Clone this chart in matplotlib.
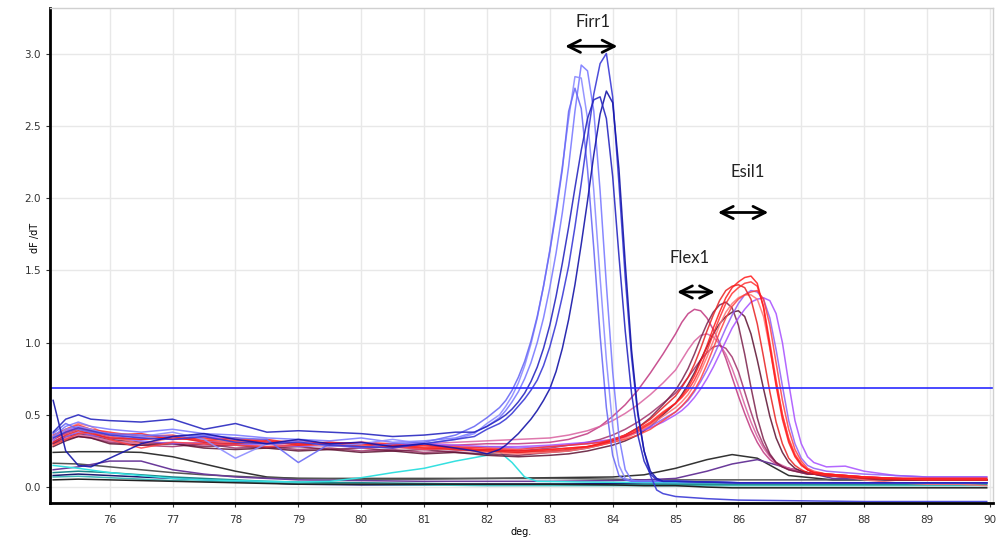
import matplotlib
matplotlib.use('Agg')
import matplotlib.pyplot as plt

# --- temperature grids ---
TB = [75.1, 75.3, 75.5, 75.7, 76.0, 76.5, 77.0, 77.5, 78.0, 78.5, 79.0, 79.5, 80.0, 80.5, 81.0, 81.5, 81.8, 82.0,
      82.2, 82.3, 82.4, 82.5, 82.6, 82.7, 82.8, 82.9, 83.0, 83.1, 83.2, 83.3, 83.4, 83.5, 83.6, 83.7, 83.8, 83.9,
      84.0, 84.1, 84.2, 84.3, 84.4, 84.5, 84.6, 84.7, 84.8,
      85.0, 85.5, 86.0, 87.0, 88.0, 89.0, 89.95]

TR = [75.1, 75.3, 75.5, 75.7, 76.0, 76.5, 77.0, 77.5, 78.0, 78.5, 79.0, 79.5, 80.0, 80.5, 81.0, 81.5, 82.0, 82.5, 83.0,
      83.3, 83.6, 83.8, 84.0, 84.2, 84.4, 84.6, 84.8,
      85.0, 85.1, 85.2, 85.3, 85.4, 85.5, 85.6, 85.7, 85.8, 85.9, 86.0, 86.1, 86.2, 86.3, 86.4, 86.5, 86.6, 86.7,
      86.8, 86.9, 87.0, 87.1, 87.2,
      87.4, 87.7, 88.0, 88.5, 89.0, 89.5, 89.95]

TL = [75.1, 75.5, 76.0, 76.5, 77.0, 77.5, 78.0, 78.5, 79.0, 80.0, 81.0, 82.0, 83.0, 84.0, 84.5, 85.0, 85.5, 85.9,
      86.3, 86.8, 87.5, 88.5, 89.95]

# --- Firr1 (blue) ---
firr_l1 = [0.35, 0.42, 0.45, 0.42, 0.4, 0.38, 0.4, 0.37, 0.36, 0.34, 0.33, 0.32, 0.34, 0.31, 0.32, 0.34, 0.38, 0.42,
           0.48, 0.53, 0.59, 0.66, 0.75, 0.86, 1.0, 1.17, 1.38, 1.62, 1.9, 2.22, 2.6, 2.92, 2.88, 2.6, 2.05, 1.4,
           0.8, 0.35, 0.12, 0.05, 0.04, 0.04, 0.04, 0.04, 0.04,
           0.04, 0.035, 0.03, 0.03, 0.03, 0.03, 0.03]
firr_l2 = [0.33, 0.4, 0.42, 0.4, 0.36, 0.35, 0.38, 0.33, 0.2, 0.3, 0.32, 0.28, 0.3, 0.33, 0.3, 0.33, 0.37, 0.44,
           0.5, 0.56, 0.63, 0.72, 0.84, 0.99, 1.17, 1.39, 1.64, 1.92, 2.22, 2.55, 2.84, 2.83, 2.55, 2.05, 1.45, 0.88,
           0.42, 0.15, 0.06, 0.04, 0.04, 0.04, 0.04, 0.04, 0.04,
           0.04, 0.035, 0.03, 0.03, 0.03, 0.03, 0.03]
firr_l3 = [0.37, 0.44, 0.4, 0.38, 0.37, 0.36, 0.35, 0.36, 0.34, 0.33, 0.17, 0.3, 0.27, 0.3, 0.31, 0.36, 0.42, 0.48,
           0.55, 0.6, 0.67, 0.76, 0.87, 1.01, 1.18, 1.39, 1.63, 1.9, 2.2, 2.6, 2.76, 2.62, 2.2, 1.65, 1.05, 0.55,
           0.22, 0.08, 0.05, 0.04, 0.04, 0.04, 0.04, 0.04, 0.04,
           0.04, 0.035, 0.03, 0.03, 0.03, 0.03, 0.03]
firr_d1 = [0.34, 0.38, 0.41, 0.39, 0.36, 0.34, 0.33, 0.35, 0.31, 0.3, 0.31, 0.29, 0.28, 0.27, 0.3, 0.33, 0.35, 0.4,
           0.44, 0.47, 0.51, 0.56, 0.61, 0.67, 0.74, 0.84, 0.97, 1.13, 1.32, 1.53, 1.8, 2.1, 2.42, 2.72, 2.93, 3.0,
           2.7, 2.1, 1.45, 0.9, 0.5, 0.25, 0.08, -0.02, -0.045,
           -0.065, -0.08, -0.09, -0.095, -0.1, -0.1, -0.1]
firr_d2 = [0.6, 0.25, 0.15, 0.14, 0.2, 0.3, 0.35, 0.37, 0.33, 0.3, 0.33, 0.3, 0.31, 0.28, 0.3, 0.27, 0.25, 0.23,
           0.26, 0.29, 0.33, 0.37, 0.42, 0.47, 0.53, 0.6, 0.68, 0.8, 0.96, 1.16, 1.4, 1.68, 1.98, 2.3, 2.58, 2.74,
           2.66, 2.2, 1.55, 0.95, 0.52, 0.25, 0.11, 0.06, 0.04,
           0.04, 0.035, 0.03, 0.03, 0.03, 0.03, 0.03]
firr_d3 = [0.38, 0.47, 0.5, 0.47, 0.46, 0.45, 0.47, 0.4, 0.44, 0.38, 0.39, 0.38, 0.37, 0.35, 0.36, 0.38, 0.38, 0.42,
           0.47, 0.5, 0.54, 0.59, 0.65, 0.73, 0.83, 0.96, 1.12, 1.32, 1.55, 1.8, 2.07, 2.33, 2.55, 2.68, 2.7, 2.55,
           2.15, 1.6, 1.08, 0.65, 0.36, 0.18, 0.09, 0.05, 0.04,
           0.04, 0.035, 0.03, 0.03, 0.03, 0.03, 0.03]

# --- Esil1 (red / purple / maroon) ---
esil_r1 = [0.33, 0.38, 0.41, 0.39, 0.36, 0.37, 0.33, 0.34, 0.32, 0.33, 0.3, 0.31, 0.3, 0.28, 0.29, 0.27, 0.26, 0.25, 0.26,
           0.27, 0.28, 0.3, 0.32, 0.35, 0.39, 0.44, 0.51,
           0.58, 0.63, 0.69, 0.77, 0.87, 0.98, 1.1, 1.21, 1.31, 1.38, 1.42, 1.45, 1.46, 1.41, 1.24, 0.97, 0.7, 0.47,
           0.31, 0.21, 0.15, 0.12, 0.1,
           0.09, 0.08, 0.07, 0.06, 0.06, 0.06, 0.06]
esil_r2 = [0.36, 0.4, 0.43, 0.4, 0.38, 0.35, 0.36, 0.32, 0.34, 0.31, 0.32, 0.29, 0.31, 0.3, 0.27, 0.28, 0.27, 0.26, 0.28,
           0.29, 0.3, 0.31, 0.33, 0.36, 0.4, 0.45, 0.52,
           0.58, 0.62, 0.67, 0.74, 0.83, 0.94, 1.06, 1.17, 1.27, 1.34, 1.38, 1.41, 1.42, 1.39, 1.25, 1.0, 0.74, 0.5,
           0.33, 0.22, 0.16, 0.12, 0.1,
           0.09, 0.08, 0.07, 0.06, 0.05, 0.05, 0.05]
esil_r3 = [0.31, 0.36, 0.39, 0.37, 0.34, 0.33, 0.35, 0.31, 0.3, 0.32, 0.29, 0.3, 0.28, 0.29, 0.27, 0.26, 0.25, 0.24, 0.25,
           0.26, 0.28, 0.3, 0.33, 0.36, 0.41, 0.47, 0.55,
           0.63, 0.69, 0.76, 0.85, 0.96, 1.08, 1.19, 1.29, 1.36, 1.39, 1.4, 1.38, 1.3, 1.13, 0.9, 0.66, 0.45, 0.3,
           0.2, 0.15, 0.12, 0.1, 0.09,
           0.08, 0.07, 0.06, 0.05, 0.05, 0.05, 0.05]
esil_r4 = [0.34, 0.4, 0.44, 0.42, 0.35, 0.3, 0.34, 0.33, 0.31, 0.3, 0.3, 0.28, 0.29, 0.27, 0.28, 0.26, 0.24, 0.23, 0.24,
           0.25, 0.27, 0.29, 0.31, 0.34, 0.38, 0.43, 0.49,
           0.55, 0.59, 0.64, 0.71, 0.8, 0.9, 1.01, 1.12, 1.21, 1.27, 1.31, 1.33, 1.33, 1.3, 1.18, 0.96, 0.72, 0.5,
           0.34, 0.23, 0.16, 0.12, 0.1,
           0.08, 0.07, 0.05, 0.03, 0.02, 0.02, 0.01]
esil_r5 = [0.29, 0.33, 0.37, 0.38, 0.33, 0.27, 0.31, 0.3, 0.29, 0.28, 0.29, 0.3, 0.27, 0.28, 0.26, 0.27, 0.25, 0.24, 0.26,
           0.27, 0.28, 0.29, 0.31, 0.33, 0.36, 0.4, 0.46,
           0.52, 0.56, 0.61, 0.67, 0.75, 0.85, 0.96, 1.07, 1.17, 1.25, 1.3, 1.33, 1.35, 1.36, 1.3, 1.12, 0.86, 0.6,
           0.4, 0.26, 0.18, 0.13, 0.11,
           0.09, 0.08, 0.07, 0.06, 0.06, 0.06, 0.06]
esil_p1 = [0.35, 0.39, 0.42, 0.4, 0.37, 0.34, 0.33, 0.35, 0.33, 0.31, 0.32, 0.3, 0.31, 0.29, 0.3, 0.29, 0.28, 0.28, 0.29,
           0.3, 0.31, 0.32, 0.33, 0.35, 0.38, 0.41, 0.45,
           0.5, 0.53, 0.57, 0.62, 0.68, 0.75, 0.83, 0.92, 1.01, 1.1, 1.17, 1.23, 1.28, 1.3, 1.31, 1.29, 1.2, 1.0,
           0.72, 0.46, 0.3, 0.21, 0.17,
           0.14, 0.145, 0.11, 0.08, 0.07, 0.07, 0.07]
esil_p2 = [0.32, 0.35, 0.38, 0.36, 0.34, 0.32, 0.3, 0.31, 0.29, 0.3, 0.28, 0.29, 0.27, 0.28, 0.26, 0.27, 0.28, 0.27, 0.28,
           0.29, 0.3, 0.31, 0.33, 0.35, 0.38, 0.42, 0.47,
           0.52, 0.56, 0.6, 0.66, 0.73, 0.81, 0.9, 1.0, 1.1, 1.19, 1.27, 1.33, 1.36, 1.35, 1.3, 1.17, 0.95, 0.7,
           0.46, 0.3, 0.2, 0.15, 0.13,
           0.11, 0.1, 0.09, 0.08, 0.07, 0.07, 0.07]
esil_m1 = [0.3, 0.35, 0.37, 0.36, 0.33, 0.31, 0.3, 0.28, 0.29, 0.27, 0.28, 0.26, 0.27, 0.25, 0.26, 0.24, 0.23, 0.22, 0.24,
           0.25, 0.27, 0.29, 0.32, 0.36, 0.41, 0.48, 0.57,
           0.67, 0.74, 0.82, 0.92, 1.03, 1.13, 1.21, 1.26, 1.28, 1.24, 1.12, 0.92, 0.69, 0.48, 0.33, 0.23, 0.17, 0.14,
           0.12, 0.11, 0.1, 0.09, 0.09,
           0.08, 0.07, 0.06, 0.06, 0.05, 0.05, 0.05]
esil_m2 = [0.28, 0.32, 0.35, 0.34, 0.3, 0.29, 0.3, 0.27, 0.26, 0.27, 0.25, 0.26, 0.24, 0.25, 0.23, 0.24, 0.22, 0.21, 0.22,
           0.23, 0.25, 0.27, 0.29, 0.32, 0.36, 0.42, 0.5,
           0.58, 0.64, 0.71, 0.79, 0.88, 0.97, 1.06, 1.13, 1.18, 1.21, 1.22, 1.18, 1.06, 0.88, 0.68, 0.49, 0.34, 0.24,
           0.17, 0.13, 0.11, 0.1, 0.09,
           0.08, 0.07, 0.06, 0.05, 0.05, 0.05, 0.05]

# --- Flex1 (magenta / pink) ---
flex_1 = [0.33, 0.37, 0.4, 0.38, 0.35, 0.33, 0.34, 0.32, 0.31, 0.32, 0.3, 0.31, 0.29, 0.3, 0.28, 0.29, 0.3, 0.3, 0.31,
          0.33, 0.37, 0.42, 0.49, 0.57, 0.67, 0.79, 0.92,
          1.06, 1.14, 1.2, 1.23, 1.22, 1.17, 1.09, 1.0, 0.89, 0.76, 0.63, 0.51, 0.4, 0.31, 0.24, 0.19, 0.16, 0.14,
          0.13, 0.12, 0.11, 0.1, 0.1,
          0.09, 0.08, 0.07, 0.06, 0.06, 0.05, 0.05]
flex_2 = [0.31, 0.34, 0.36, 0.35, 0.32, 0.3, 0.31, 0.29, 0.3, 0.28, 0.29, 0.3, 0.28, 0.29, 0.3, 0.31, 0.32, 0.33, 0.34,
          0.36, 0.39, 0.42, 0.46, 0.51, 0.57, 0.64, 0.72,
          0.81, 0.88, 0.95, 1.01, 1.05, 1.06, 1.04, 0.99, 0.92, 0.82, 0.7, 0.57, 0.45, 0.35, 0.27, 0.21, 0.17, 0.15,
          0.13, 0.12, 0.11, 0.1, 0.1,
          0.09, 0.08, 0.07, 0.06, 0.05, 0.05, 0.05]
flex_3 = [0.3, 0.33, 0.35, 0.34, 0.31, 0.29, 0.28, 0.3, 0.27, 0.28, 0.26, 0.27, 0.25, 0.26, 0.24, 0.25, 0.26, 0.25, 0.27,
          0.29, 0.31, 0.33, 0.36, 0.4, 0.45, 0.51, 0.58,
          0.65, 0.7, 0.76, 0.82, 0.88, 0.93, 0.97, 0.98, 0.96, 0.9, 0.8, 0.66, 0.52, 0.39, 0.29, 0.22, 0.17, 0.14,
          0.12, 0.11, 0.1, 0.09, 0.09,
          0.08, 0.07, 0.06, 0.05, 0.05, 0.05, 0.05]

# --- low / negative controls ---
low_k1 = [0.24, 0.245, 0.245, 0.24, 0.21, 0.16, 0.11, 0.07, 0.06, 0.06, 0.06, 0.06, 0.065, 0.07, 0.085, 0.13, 0.19,
          0.225, 0.2, 0.08, 0.05, 0.05, 0.05]
low_k2 = [0.165, 0.16, 0.14, 0.12, 0.1, 0.085, 0.075, 0.065, 0.06, 0.055, 0.055, 0.06, 0.06, 0.055, 0.05, 0.05, 0.05,
          0.05, 0.05, 0.05, 0.05, 0.05, 0.05]
low_k3 = [0.12, 0.14, 0.18, 0.18, 0.12, 0.09, 0.07, 0.06, 0.05, 0.045, 0.04, 0.04, 0.04, 0.045, 0.05, 0.06, 0.11,
          0.16, 0.19, 0.13, 0.06, 0.05, 0.05]
low_t1 = [0.1, 0.11, 0.1, 0.085, 0.07, 0.06, 0.05, 0.04, 0.035, 0.03, 0.025, 0.02, 0.02, 0.02, 0.02, 0.02, 0.02,
          0.02, 0.02, 0.02, 0.02, 0.02, 0.02]
low_n1 = [0.08, 0.09, 0.08, 0.07, 0.06, 0.05, 0.04, 0.03, 0.02, 0.015, 0.015, 0.02, 0.02, 0.025, 0.03, 0.03, 0.03,
          0.03, 0.03, 0.03, 0.03, 0.03, 0.03]
low_t2 = [0.07, 0.075, 0.065, 0.055, 0.045, 0.04, 0.035, 0.03, 0.025, 0.02, 0.015, 0.01, 0.01, 0.01, 0.01, 0.01,
          0.01, 0.01, 0.01, 0.01, 0.01, 0.01, 0.01]
low_k4 = [0.05, 0.055, 0.05, 0.045, 0.04, 0.035, 0.03, 0.025, 0.02, 0.02, 0.02, 0.02, 0.02, 0.015, 0.01, 0.01, 0.0,
          -0.005, -0.005, -0.005, -0.005, -0.005, -0.005]

cyan_t = [75.1, 75.5, 76.0, 76.5, 77.0, 77.5, 78.0, 79.0, 79.5, 80.0, 80.5, 81.0, 81.5, 82.0, 82.2, 82.4, 82.6, 82.8,
          83.5, 85.0, 87.0, 89.95]
cyan_v = [0.15, 0.13, 0.1, 0.08, 0.06, 0.05, 0.045, 0.035, 0.04, 0.065, 0.1, 0.13, 0.18, 0.22, 0.245, 0.17, 0.07,
          0.04, 0.035, 0.03, 0.03, 0.03]

threshold = 0.685

fig = plt.figure(figsize=(9.96, 5.39), dpi=100)
ax = fig.add_axes([0.0502, 0.0668, 0.9468, 0.9184])

# low curves first (drawn underneath)
low = [(low_k1, '#333333'), (low_k2, '#555555'), (low_k3, '#6a3a9a'), (low_t1, '#1a8a8a'),
       (low_n1, '#1a1a70'), (low_t2, '#40b8b8'), (low_k4, '#222222')]
for v, c in low:
    ax.plot(TL, v, color=c, lw=1.1)
ax.plot(cyan_t, cyan_v, color='#35e0e0', lw=1.1)

reds = [(flex_1, '#c0357f'), (flex_2, '#d9609f'), (flex_3, '#a0306a'),
        (esil_m1, '#7a1f4a'), (esil_m2, '#5c1030'),
        (esil_p1, '#a64dff'), (esil_p2, '#8f5cf5'),
        (esil_r4, '#ff7070'), (esil_r5, '#ff4040'), (esil_r3, '#e82020'),
        (esil_r2, '#ff3030'), (esil_r1, '#ff1a1a')]
for v, c in reds:
    ax.plot(TR, v, color=c, lw=1.1, alpha=0.85)

blues = [(firr_l1, '#7b7bff'), (firr_l2, '#8c8cff'), (firr_l3, '#6a6af5'),
         (firr_d1, '#3a3ad6'), (firr_d2, '#1515a8'), (firr_d3, '#2828c0')]
for v, c in blues:
    ax.plot(TB, v, color=c, lw=1.1, alpha=0.9)

ax.axhline(threshold, color='#2a2aff', lw=1.2)

ax.set_xlim(75.05, 90.05)
ax.set_ylim(-0.11, 3.315)
ax.set_xticks(range(76, 91))
ax.set_yticks([0.0, 0.5, 1.0, 1.5, 2.0, 2.5, 3.0])
ax.set_yticklabels(['0.0', '0.5', '1.0', '1.5', '2.0', '2.5', '3.0'])
ax.tick_params(labelsize=7.5, colors='#333333', length=3, width=0.8)
ax.tick_params(axis='x', pad=6)
ax.grid(True, color='#e8e8e8', lw=1)
ax.set_axisbelow(True)
for s in ['left', 'bottom']:
    ax.spines[s].set_color('black')
    ax.spines[s].set_linewidth(2)
for s in ['top', 'right']:
    ax.spines[s].set_color('#d0d0d0')
    ax.spines[s].set_linewidth(1)

ax.set_ylabel('dF /dT', fontsize=7)
ax.yaxis.set_label_coords(-0.011, 0.535)
ax.set_xlabel('deg.', fontsize=7, labelpad=1)

# annotations
arrow = dict(arrowstyle='<->', color='black', lw=2, mutation_scale=22)
ax.annotate('', xy=(83.2, 3.05), xytext=(84.12, 3.05), arrowprops=arrow)
ax.text(83.68, 3.22, 'Firr1', ha='center', va='center', fontsize=12, family='Lato', color='#222222')
ax.annotate('', xy=(85.63, 1.90), xytext=(86.52, 1.90), arrowprops=arrow)
ax.text(86.14, 2.18, 'Esil1', ha='center', va='center', fontsize=12, family='Lato', color='#222222')
ax.annotate('', xy=(84.98, 1.35), xytext=(85.67, 1.35), arrowprops=arrow)
ax.text(85.22, 1.585, 'Flex1', ha='center', va='center', fontsize=12, family='Lato', color='#222222')

fig.savefig('out.png', dpi=100)
